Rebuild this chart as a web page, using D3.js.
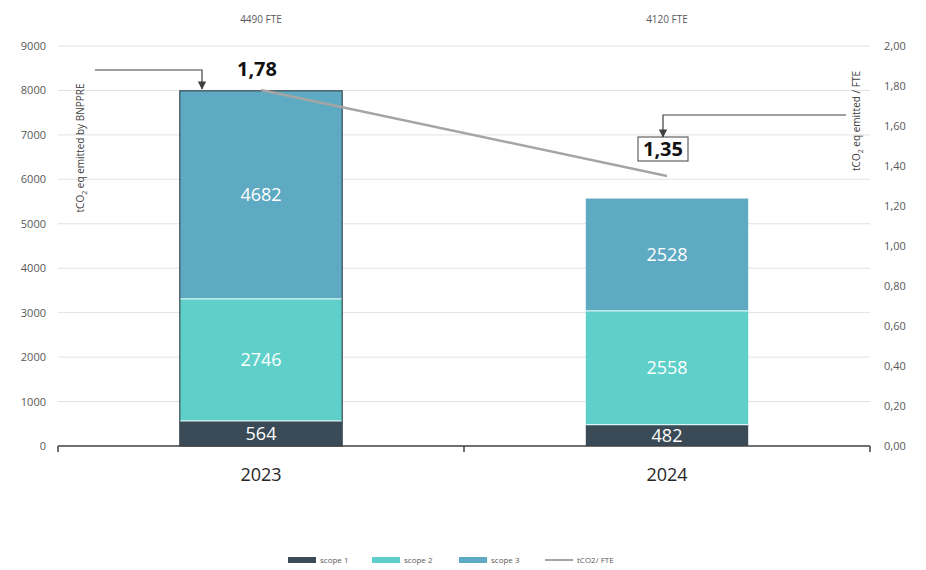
<!DOCTYPE html>
<html>
<head>
<meta charset="utf-8">
<script src="https://cdn.jsdelivr.net/npm/d3@7"></script>
<style>
  body { margin: 0; background: #fff; font-family: 'Open Sans', Calibri, sans-serif; }
</style>
</head>
<body>
<div id="chart"></div>
<script>
// data
const years = ['2023', '2024'];
const fte = ['4490 FTE', '4120 FTE'];
const scope1 = [564, 482];
const scope2 = [2746, 2558];
const scope3 = [4682, 2528];
const perFte = [1.78, 1.35];
const leftTicks = [0, 1000, 2000, 3000, 4000, 5000, 6000, 7000, 8000, 9000];
const rightTicks = [0, 0.2, 0.4, 0.6, 0.8, 1.0, 1.2, 1.4, 1.6, 1.8, 2.0];
const seriesNames = ['scope 1', 'scope 2', 'scope 3'];
const colors = ['#3a4a56', '#5fd0c9', '#5eaac2'];

const W = 926, H = 570;
const svg = d3.select('#chart').append('svg').attr('width', W).attr('height', H);

const x = d3.scaleBand().domain(years).range([58, 870]);
const y = d3.scaleLinear().domain([0, 9000]).range([446, 46]);
const y2 = d3.scaleLinear().domain([0, 2]).range([446, 46]);
const barW = x.bandwidth() * 0.4;
const cx = d => x(d) + x.bandwidth() / 2;

// gridlines
svg.append('g').selectAll('line')
    .data(leftTicks.slice(1))
    .join('line')
    .attr('x1', 58).attr('x2', 870)
    .attr('y1', d => y(d)).attr('y2', d => y(d))
    .attr('stroke', '#e2e2e2').attr('stroke-width', 1);

// left axis
const la = svg.append('g').attr('transform', 'translate(52,0)')
    .call(d3.axisLeft(y).tickValues(leftTicks).tickFormat(d3.format('d')).tickSize(0).tickPadding(6));
la.select('.domain').remove();
la.selectAll('text').attr('font-size', 11).attr('fill', '#595959').attr('font-family', 'Open Sans, sans-serif');

// right axis
const fmt = v => d3.format('.2f')(v).replace('.', ',');
const ra = svg.append('g').attr('transform', 'translate(880,0)')
    .call(d3.axisRight(y2).tickValues(rightTicks).tickFormat(fmt).tickSize(0).tickPadding(4));
ra.select('.domain').remove();
ra.selectAll('text').attr('font-size', 11).attr('fill', '#595959').attr('font-family', 'Open Sans, sans-serif');

// stacked bars
const table = years.map((yr, i) => ({year: yr, s0: scope1[i], s1: scope2[i], s2: scope3[i]}));
const stack = d3.stack().keys(['s0', 's1', 's2'])(table);

const layers = svg.append('g').selectAll('g')
    .data(stack)
    .join('g')
    .attr('fill', (d, i) => colors[i]);

layers.selectAll('rect')
    .data(d => d)
    .join('rect')
    .attr('x', d => cx(d.data.year) - barW / 2)
    .attr('width', barW)
    .attr('y', d => y(d[1]))
    .attr('height', d => y(d[0]) - y(d[1]));

// thin light separators between segments
svg.append('g').selectAll('line')
    .data(stack.slice(1).flatMap(s => s))
    .join('line')
    .attr('x1', d => cx(d.data.year) - barW / 2)
    .attr('x2', d => cx(d.data.year) + barW / 2)
    .attr('y1', d => y(d[0])).attr('y2', d => y(d[0]))
    .attr('stroke', '#d8f6f6').attr('stroke-width', 1.2);

// outline of the 2023 bar
svg.append('rect')
    .attr('x', cx(years[0]) - barW / 2)
    .attr('width', barW)
    .attr('y', y(scope1[0] + scope2[0] + scope3[0]))
    .attr('height', y(0) - y(scope1[0] + scope2[0] + scope3[0]))
    .attr('fill', 'none').attr('stroke', '#3a4a56').attr('stroke-width', 1.2);

// value labels
stack.forEach((s, k) => {
  svg.append('g').selectAll('text')
      .data(s)
      .join('text')
      .attr('x', d => cx(d.data.year))
      .attr('y', d => (y(d[0]) + y(d[1])) / 2)
      .attr('dy', '0.36em')
      .attr('text-anchor', 'middle')
      .attr('font-size', 18)
      .attr('fill', '#fff')
      .text(d => d[1] - d[0]);
});

// baseline with ticks
svg.append('line').attr('x1', 58).attr('x2', 870).attr('y1', 446).attr('y2', 446)
    .attr('stroke', '#404040').attr('stroke-width', 1.5);
svg.append('g').selectAll('line')
    .data([58, 464, 870])
    .join('line')
    .attr('x1', d => d).attr('x2', d => d)
    .attr('y1', 446).attr('y2', 452)
    .attr('stroke', '#404040').attr('stroke-width', 1.5);

// year labels
svg.append('g').selectAll('text')
    .data(years)
    .join('text')
    .attr('x', d => cx(d))
    .attr('y', 481)
    .attr('text-anchor', 'middle')
    .attr('font-size', 18)
    .attr('fill', '#262626')
    .text(d => d);

// FTE labels on top
svg.append('g').selectAll('text')
    .data(years)
    .join('text')
    .attr('x', d => cx(d))
    .attr('y', 23)
    .attr('text-anchor', 'middle')
    .attr('font-size', 10)
    .attr('fill', '#595959')
    .text((d, i) => fte[i]);

// tCO2 / FTE line
const line = d3.line().x((d, i) => cx(years[i])).y(d => y2(d));
svg.append('path')
    .datum(perFte)
    .attr('d', line)
    .attr('fill', 'none')
    .attr('stroke', '#a5a5a5')
    .attr('stroke-width', 2.5);

// axis titles
svg.append('text')
    .attr('transform', 'translate(84,148) rotate(-90)')
    .attr('text-anchor', 'middle')
    .attr('font-size', 10)
    .attr('fill', '#404040')
    .html('tCO<tspan font-size="7" dy="3">2</tspan><tspan dy="-3"> eq emitted by BNPPRE</tspan>');

svg.append('text')
    .attr('transform', 'translate(860,121) rotate(-90)')
    .attr('text-anchor', 'middle')
    .attr('font-size', 10)
    .attr('fill', '#404040')
    .html('tCO<tspan font-size="7" dy="3">2</tspan><tspan dy="-3"> eq emitted / FTE</tspan>');

// arrow marker
svg.append('defs').append('marker')
    .attr('id', 'arr').attr('viewBox', '0 0 10 10')
    .attr('refX', 9).attr('refY', 5)
    .attr('markerWidth', 7).attr('markerHeight', 7)
    .attr('orient', 'auto')
    .append('path').attr('d', 'M0,0L10,5L0,10z').attr('fill', '#404040');

// annotation 1,78
svg.append('path')
    .attr('d', `M95,70H${cx(years[0]) - 59}V${y2(perFte[0]) - 1}`)
    .attr('fill', 'none').attr('stroke', '#404040').attr('stroke-width', 1.2)
    .attr('marker-end', 'url(#arr)');
svg.append('text')
    .attr('x', cx(years[0]) - 4).attr('y', y2(perFte[0]) - 14)
    .attr('text-anchor', 'middle')
    .attr('font-size', 20).attr('font-weight', 'bold').attr('fill', '#111')
    .text(fmt(perFte[0]));

// annotation 1,35
const bx = cx(years[1]) - 4, byc = 149;
svg.append('rect')
    .attr('x', bx - 25).attr('y', byc - 12).attr('width', 50).attr('height', 24)
    .attr('fill', '#fff').attr('stroke', '#404040').attr('stroke-width', 1);
svg.append('text')
    .attr('x', bx).attr('y', byc).attr('dy', '0.36em')
    .attr('text-anchor', 'middle')
    .attr('font-size', 20).attr('font-weight', 'bold').attr('fill', '#111')
    .text(fmt(perFte[1]));
svg.append('path')
    .attr('d', `M846,115H${bx}V${byc - 12}`)
    .attr('fill', 'none').attr('stroke', '#404040').attr('stroke-width', 1.2)
    .attr('marker-end', 'url(#arr)');

// legend
const legendItems = seriesNames.concat(['tCO2/ FTE']);
const legendX = [288, 372, 459, 545];
const lg = svg.append('g').selectAll('g')
    .data(legendItems)
    .join('g')
    .attr('transform', (d, i) => `translate(${legendX[i]},560)`);
lg.filter((d, i) => i < 3).append('rect')
    .attr('x', 0).attr('y', -3).attr('width', 28).attr('height', 6)
    .attr('fill', (d, i) => colors[i]);
lg.filter((d, i) => i === 3).append('line')
    .attr('x1', 0).attr('x2', 28).attr('y1', 0).attr('y2', 0)
    .attr('stroke', '#a5a5a5').attr('stroke-width', 2);
lg.append('text')
    .attr('x', 32).attr('y', 0).attr('dy', '0.35em')
    .attr('font-size', 8).attr('fill', '#595959')
    .text(d => d);
</script>
</body>
</html>
